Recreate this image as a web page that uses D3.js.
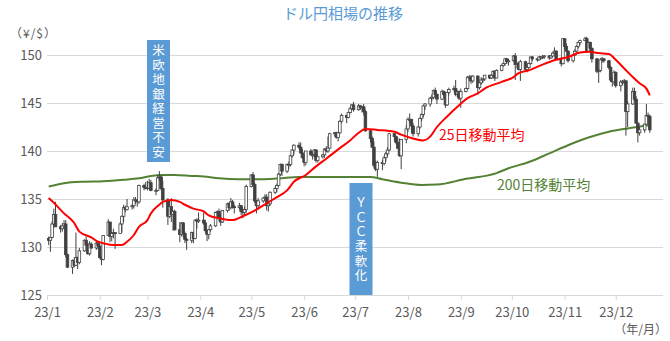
<!DOCTYPE html>
<html>
<head>
<meta charset="utf-8">
<script src="https://cdn.jsdelivr.net/npm/d3@7"></script>
<style>
  body { margin: 0; background: #fff; }
  text { font-family: "Noto Sans CJK JP", "Noto Sans", sans-serif; }
</style>
</head>
<body>
<div id="chart-area"></div>
<script>
// daily candles: [date, open, high, low, close]
const ohlc = [
  ["01-02",130.9,131.1,130.2,130.7],["01-03",130.7,131.0,129.5,131.0],["01-04",131.0,132.7,130.9,132.4],
  ["01-05",132.4,134.0,132.0,133.4],["01-06",133.4,134.7,132.8,132.1],["01-09",132.1,132.3,131.5,131.9],
  ["01-10",131.9,132.5,131.6,132.2],["01-11",132.2,132.8,132.0,132.4],["01-12",132.4,132.8,128.9,129.2],
  ["01-13",129.2,129.3,127.8,127.9],["01-16",127.9,128.7,127.2,128.6],["01-17",128.6,128.9,127.9,128.1],
  ["01-18",128.1,131.5,128.0,128.9],["01-19",128.9,129.0,127.7,128.4],["01-20",128.4,129.9,128.2,129.6],
  ["01-23",129.6,130.8,129.5,130.7],["01-24",130.7,131.1,130.1,130.2],["01-25",130.2,130.4,129.2,129.3],
  ["01-26",129.3,130.6,129.1,130.3],["01-27",130.3,130.5,129.8,129.9],["01-30",129.9,130.6,129.7,130.4],
  ["01-31",130.4,130.6,129.8,130.1],
  ["02-01",130.1,130.3,128.8,128.9],["02-02",128.9,129.0,128.1,128.7],["02-03",128.7,131.2,128.6,131.2],
  ["02-06",131.2,132.9,131.2,132.6],["02-07",132.6,132.6,130.5,131.1],["02-08",131.1,131.6,130.6,131.4],
  ["02-09",131.4,131.9,130.9,131.5],["02-10",131.5,131.5,129.8,131.4],["02-13",131.4,132.6,131.4,132.4],
  ["02-14",132.4,133.3,131.5,133.2],["02-15",133.2,134.4,132.6,134.1],["02-16",134.1,134.3,133.6,133.9],
  ["02-17",133.9,135.0,133.8,134.2],["02-20",134.2,134.5,133.9,134.3],["02-21",134.3,135.2,134.0,134.9],
  ["02-22",134.9,135.2,134.5,134.9],["02-23",134.9,135.0,134.2,134.7],["02-24",134.7,136.5,134.5,136.4],
  ["02-27",136.4,136.6,135.9,136.2],["02-28",136.2,136.8,136.0,136.2],
  ["03-01",136.2,136.9,135.9,136.1],["03-02",136.1,137.1,136.0,136.7],["03-03",136.7,137.0,135.8,135.9],
  ["03-06",135.9,136.1,135.4,135.9],["03-07",135.9,137.5,135.8,137.2],["03-08",137.2,137.9,136.9,137.3],
  ["03-09",137.3,137.5,135.9,136.1],["03-10",136.1,136.9,134.1,134.9],["03-13",134.9,135.1,132.3,133.2],
  ["03-14",133.2,134.8,133.0,134.2],["03-15",134.2,135.1,132.6,133.4],["03-16",133.4,133.8,131.7,133.7],
  ["03-17",133.7,133.9,131.7,131.8],["03-20",131.8,132.6,130.5,131.3],["03-21",131.3,132.6,131.1,132.5],
  ["03-22",132.5,132.6,131.0,131.4],["03-23",131.4,131.6,130.4,130.8],["03-24",130.8,131.0,129.7,130.7],
  ["03-27",130.7,131.6,130.4,131.5],["03-28",131.5,131.6,130.4,130.9],["03-29",130.9,132.9,130.8,132.8],
  ["03-30",132.8,133.0,131.9,132.7],["03-31",132.7,133.6,132.5,132.8],
  ["04-03",132.8,133.6,132.3,132.5],["04-04",132.5,132.8,131.5,131.7],["04-05",131.7,131.8,130.6,131.3],
  ["04-06",131.3,131.9,130.8,131.8],["04-07",131.8,132.4,131.6,132.2],["04-10",132.2,133.6,132.1,133.6],
  ["04-11",133.6,133.8,133.0,133.7],["04-12",133.7,134.0,132.7,133.1],["04-13",133.1,133.4,132.2,132.6],
  ["04-14",132.6,133.8,132.5,133.8],["04-17",133.8,134.6,133.6,134.5],["04-18",134.5,134.7,133.8,134.1],
  ["04-19",134.1,135.1,133.9,134.7],["04-20",134.7,134.9,134.0,134.2],["04-21",134.2,134.4,133.5,134.1],
  ["04-24",134.1,134.6,133.9,134.3],["04-25",134.3,134.4,133.3,133.7],["04-26",133.7,134.0,133.0,133.6],
  ["04-27",133.6,134.2,133.3,133.9],["04-28",133.9,136.5,133.6,136.3],
  ["05-01",136.3,137.6,136.2,137.5],["05-02",137.5,137.8,136.3,136.5],["05-03",136.5,136.7,134.6,134.8],
  ["05-04",134.8,134.9,133.5,134.3],["05-05",134.3,135.1,133.9,134.8],["05-08",134.8,135.2,134.6,135.1],
  ["05-09",135.1,135.5,134.8,135.2],["05-10",135.2,135.5,133.8,134.3],["05-11",134.3,134.8,133.7,134.5],
  ["05-12",134.5,135.8,134.3,135.7],["05-15",135.7,136.3,135.5,136.1],["05-16",136.1,136.6,135.7,136.4],
  ["05-17",136.4,137.7,136.3,137.6],["05-18",137.6,138.7,137.4,138.6],["05-19",138.6,138.7,137.4,137.9],
  ["05-22",137.9,138.7,137.7,138.6],["05-23",138.6,138.9,138.1,138.6],["05-24",138.6,139.6,138.4,139.5],
  ["05-25",139.5,140.2,139.3,140.1],["05-26",140.1,140.7,139.6,140.6],["05-29",140.6,140.9,140.2,140.4],
  ["05-30",140.4,140.9,139.7,139.8],["05-31",139.8,140.2,139.2,139.3],
  ["06-01",139.3,139.6,138.4,138.8],["06-02",138.8,140.0,138.5,140.0],["06-05",140.0,140.2,139.5,139.6],
  ["06-06",139.6,139.8,139.1,139.6],["06-07",139.6,140.2,139.3,140.1],["06-08",140.1,140.2,138.8,139.0],
  ["06-09",139.0,139.5,138.8,139.4],["06-12",139.4,139.7,139.2,139.6],["06-13",139.6,140.3,139.3,140.2],
  ["06-14",140.2,140.5,139.9,140.0],["06-15",140.0,141.5,139.8,140.3],["06-16",140.3,141.9,140.3,141.8],
  ["06-19",141.8,142.0,141.5,141.9],["06-20",141.9,142.0,141.3,141.4],["06-21",141.4,142.0,141.0,141.9],
  ["06-22",141.9,143.2,141.8,143.1],["06-23",143.1,143.9,142.9,143.7],["06-26",143.7,143.8,142.9,143.5],
  ["06-27",143.5,144.1,143.4,144.0],["06-28",144.0,144.6,143.9,144.4],["06-29",144.4,144.9,144.3,144.8],
  ["06-30",144.8,145.1,144.1,144.3],
  ["07-03",144.3,144.9,144.2,144.7],["07-04",144.7,144.8,144.3,144.5],["07-05",144.5,144.7,144.0,144.6],
  ["07-06",144.6,144.9,143.7,144.1],["07-07",144.1,144.3,142.0,142.1],["07-10",142.1,142.2,140.9,141.3],
  ["07-11",141.3,141.5,140.3,140.4],["07-12",140.4,141.0,138.2,138.5],["07-13",138.5,139.0,137.9,138.1],
  ["07-14",138.1,139.0,137.3,138.8],["07-17",138.8,139.1,138.0,138.7],["07-18",138.7,139.5,138.5,139.3],
  ["07-19",139.3,139.9,138.9,139.7],["07-20",139.7,140.4,139.4,140.1],["07-21",140.1,141.9,140.0,141.8],
  ["07-24",141.8,141.9,141.0,141.5],["07-25",141.5,141.6,140.7,140.9],["07-26",140.9,141.4,140.2,140.3],
  ["07-27",140.3,141.3,139.4,139.5],["07-28",139.5,141.2,138.1,141.2],["07-31",141.2,142.7,140.8,142.3],
  ["08-01",142.3,143.5,142.0,143.3],["08-02",143.3,143.9,142.9,143.3],["08-03",143.3,143.3,141.9,142.6],
  ["08-04",142.6,142.9,141.5,141.8],["08-07",141.8,142.6,141.5,142.5],["08-08",142.5,143.5,142.3,143.4],
  ["08-09",143.4,143.9,143.1,143.8],["08-10",143.8,144.8,143.5,144.7],["08-11",144.7,145.0,144.3,144.9],
  ["08-14",144.9,145.6,144.6,145.5],["08-15",145.5,145.9,145.2,145.6],["08-16",145.6,146.4,145.4,146.3],
  ["08-17",146.3,146.6,145.5,145.9],["08-18",145.9,146.0,144.9,145.4],["08-21",145.4,146.4,145.3,146.2],
  ["08-22",146.2,146.3,145.7,145.9],["08-23",145.9,146.1,144.5,144.8],["08-24",144.8,146.1,144.7,146.1],
  ["08-25",146.1,146.6,145.8,146.4],["08-28",146.4,146.8,146.2,146.5],["08-29",146.5,147.4,145.7,145.9],
  ["08-30",145.9,146.3,145.6,146.2],["08-31",146.2,146.3,145.3,145.5],
  ["09-01",145.5,146.5,144.5,146.2],["09-04",146.2,146.6,146.1,146.5],["09-05",146.5,147.8,146.4,147.7],
  ["09-06",147.7,147.9,147.3,147.7],["09-07",147.7,147.9,147.0,147.3],["09-08",147.3,147.9,147.1,147.8],
  ["09-11",147.8,147.9,145.9,146.6],["09-12",146.6,147.2,146.4,147.1],["09-13",147.1,147.7,146.9,147.4],
  ["09-14",147.4,147.6,147.1,147.5],["09-15",147.5,147.9,147.3,147.9],["09-18",147.9,147.9,147.5,147.6],
  ["09-19",147.6,148.0,147.5,147.9],["09-20",147.9,148.4,147.7,148.3],["09-21",148.3,148.4,147.3,147.6],
  ["09-22",147.6,148.5,147.6,148.4],["09-25",148.4,149.0,148.3,148.9],["09-26",148.9,149.2,148.8,149.1],
  ["09-27",149.1,149.7,148.9,149.6],["09-28",149.6,149.7,149.1,149.3],["09-29",149.3,149.6,148.9,149.4],
  ["10-02",149.4,150.0,149.3,149.9],["10-03",149.9,150.2,147.4,149.0],["10-04",149.0,149.3,148.6,149.1],
  ["10-05",149.1,149.3,148.4,148.5],["10-06",148.5,149.5,147.3,149.3],["10-09",149.3,149.4,148.4,148.5],
  ["10-10",148.5,148.9,148.2,148.7],["10-11",148.7,149.2,148.6,149.1],["10-12",149.1,149.8,149.0,149.8],
  ["10-13",149.8,149.9,149.4,149.6],["10-16",149.6,149.7,149.3,149.5],["10-17",149.5,149.9,149.4,149.8],
  ["10-18",149.8,149.9,149.5,149.8],["10-19",149.8,150.0,149.6,149.8],["10-20",149.8,150.0,149.6,149.9],
  ["10-23",149.9,150.0,149.5,149.7],["10-24",149.7,150.0,149.6,149.9],["10-25",149.9,150.3,149.8,150.2],
  ["10-26",150.2,150.8,150.1,150.4],["10-27",150.4,150.5,149.5,149.6],["10-30",149.6,149.8,148.8,149.1],
  ["10-31",149.1,151.7,149.0,151.7],
  ["11-01",151.7,151.7,150.6,150.9],["11-02",150.9,151.2,150.3,150.4],["11-03",150.4,150.5,149.2,149.4],
  ["11-06",149.4,150.1,149.2,150.0],["11-07",150.0,150.6,149.9,150.4],["11-08",150.4,151.0,150.3,150.9],
  ["11-09",150.9,151.4,150.7,151.3],["11-10",151.3,151.6,151.0,151.5],["11-13",151.5,151.9,151.5,151.7],
  ["11-14",151.7,151.9,150.2,150.4],["11-15",150.4,151.4,150.3,151.3],["11-16",151.3,151.4,150.5,150.7],
  ["11-17",150.7,150.8,149.2,149.6],["11-20",149.6,149.7,148.1,148.3],["11-21",148.3,148.6,147.1,148.4],
  ["11-22",148.4,149.7,148.2,149.5],["11-23",149.5,149.8,149.2,149.6],["11-24",149.6,149.7,149.2,149.4],
  ["11-27",149.4,149.5,148.5,148.7],["11-28",148.7,148.9,147.2,147.4],["11-29",147.4,147.7,146.7,147.2],
  ["11-30",147.2,148.4,146.9,148.2],
  ["12-01",148.2,148.3,146.6,146.8],["12-04",146.8,147.4,146.2,147.2],["12-05",147.2,147.4,146.9,147.2],
  ["12-06",147.2,147.5,146.9,147.3],["12-07",147.3,147.4,141.6,144.1],["12-08",144.1,145.2,142.5,144.9],
  ["12-11",144.9,146.6,144.8,146.2],["12-12",146.2,146.6,145.2,145.4],["12-13",145.4,145.7,142.9,142.9],
  ["12-14",142.9,143.0,140.9,141.9],["12-15",141.9,142.5,141.6,142.2],["12-18",142.2,142.8,141.9,142.8],
  ["12-19",142.8,144.9,142.7,143.7],["12-20",143.7,144.0,142.9,143.6],["12-21",143.6,143.8,141.9,142.2]
];

// 25-day moving average
const ma25 = [
  ["01-02",135.1],["01-05",134.6],["01-11",133.5],["01-17",132.5],["01-20",131.6],["01-27",131.0],
  ["01-31",130.55],["02-03",130.4],["02-09",130.2],["02-14",130.2],["02-17",130.55],["02-21",131.25],
  ["02-24",132.1],["03-01",132.8],["03-03",133.5],["03-08",134.4],["03-10",134.7],["03-15",134.9],
  ["03-20",134.7],["03-23",134.4],["03-28",134.0],["04-03",133.7],["04-06",133.3],["04-12",133.0],
  ["04-20",132.8],["04-26",133.2],["05-04",133.9],["05-10",134.55],["05-16",135.2],["05-22",135.9],
  ["05-26",136.8],["06-02",137.5],["06-08",138.4],["06-14",139.2],["06-22",140.3],["06-28",141.1],
  ["07-03",141.9],["07-07",142.3],["07-14",142.2],["07-24",142.0],["07-28",141.7],["08-04",141.3],
  ["08-10",141.1],["08-14",141.5],["08-18",142.5],["08-24",143.6],["08-30",144.6],["09-05",145.5],
  ["09-11",146.0],["09-15",146.5],["09-25",147.2],["10-02",147.7],["10-05",148.1],["10-11",148.4],
  ["10-19",149.0],["10-27",149.5],["11-03",149.8],["11-10",150.25],["11-15",150.35],["11-21",150.2],
  ["11-27",150.1],["12-01",149.5],["12-06",148.6],["12-11",147.7],["12-15",147.05],["12-19",146.5],
  ["12-21",145.8]
];

// 200-day moving average
const ma200 = [
  ["01-02",136.3],["01-11",136.65],["01-23",136.8],["02-03",136.85],["02-15",137.0],["02-24",137.15],
  ["03-03",137.4],["03-10",137.5],["03-17",137.5],["03-27",137.4],["04-03",137.35],["04-12",137.15],
  ["04-24",137.05],["05-05",137.05],["05-17",137.15],["05-29",137.3],["06-22",137.3],["07-10",137.3],
  ["07-17",137.05],["07-28",136.7],["08-09",136.45],["08-18",136.5],["09-04",137.1],["09-22",137.7],
  ["09-29",138.2],["10-11",138.85],["10-23",139.75],["11-03",140.6],["11-15",141.4],["11-27",142.0],
  ["12-08",142.35],["12-21",142.7]
];

const yTicks = [125, 130, 135, 140, 145, 150];
const monthTicks = d3.range(0, 12).map(m => new Date(2023, m, 1));

const W = 670, H = 341;
const LEFT = 47, RIGHT = 663, TOP = 55, BOTTOM = 295;

const parse = s => new Date(2023, +s.slice(0, 2) - 1, +s.slice(3, 5));

const svg = d3.select("#chart-area").append("svg")
  .attr("width", W)
  .attr("height", H);

const x = d3.scaleTime()
  .domain([new Date(2023, 0, 1), new Date(2023, 11, 27)])
  .range([LEFT, 660]);

const y = d3.scaleLinear()
  .domain([125, 150])
  .range([BOTTOM, TOP]);

// gridlines + y labels
const yAxisGroup = svg.append("g")
  .attr("transform", `translate(${LEFT},0)`)
  .call(d3.axisLeft(y).tickValues(yTicks).tickSize(-(RIGHT - LEFT)).tickPadding(5));
yAxisGroup.select(".domain").remove();
yAxisGroup.selectAll("line").attr("stroke", "#d9d9d9");
yAxisGroup.selectAll("text")
  .attr("fill", "#595959")
  .attr("font-size", "13px");

// x axis
const xAxisGroup = svg.append("g")
  .attr("transform", `translate(0,${BOTTOM})`)
  .call(d3.axisBottom(x).tickValues(monthTicks).tickSize(5).tickPadding(8)
    .tickFormat(d => "23/" + (d.getMonth() + 1)));
xAxisGroup.select(".domain").remove();
xAxisGroup.selectAll("line").attr("stroke", "#d9d9d9");
xAxisGroup.selectAll("text")
  .attr("fill", "#595959")
  .attr("font-size", "13px");

// title and unit labels
svg.append("text")
  .attr("x", 343).attr("y", 19)
  .attr("text-anchor", "middle")
  .attr("font-size", "15px")
  .attr("fill", "#5b9bd5")
  .text("ドル円相場の推移");

svg.append("text")
  .attr("x", 10).attr("y", 38)
  .attr("font-size", "12px")
  .attr("letter-spacing", "1px")
  .attr("fill", "#595959")
  .text("（¥/$）");

svg.append("text")
  .attr("x", 667).attr("y", 334)
  .attr("text-anchor", "end")
  .attr("font-size", "12px")
  .attr("fill", "#595959")
  .text("（年/月）");

// annotation boxes with vertical text
function note(cx, top, bottom, label) {
  const w = 23;
  svg.append("rect")
    .attr("x", cx - w / 2).attr("y", top)
    .attr("width", w).attr("height", bottom - top)
    .attr("fill", "#5b9bd5");
  svg.append("text")
    .attr("x", cx).attr("y", (top + bottom) / 2 + 1)
    .attr("text-anchor", "middle")
    .style("writing-mode", "vertical-rl")
    .style("text-orientation", "upright")
    .attr("letter-spacing", "2px")
    .attr("font-size", "12.5px")
    .attr("fill", "#fff")
    .text(label);
}

// 200 MA
const line = d3.line()
  .x(d => x(parse(d[0])))
  .y(d => y(d[1]))
  .curve(d3.curveMonotoneX);

svg.append("path")
  .datum(ma200)
  .attr("fill", "none")
  .attr("stroke", "#548235")
  .attr("stroke-width", 2)
  .attr("d", line);

// candles
const bodyW = 2.6;
const candles = svg.append("g");
ohlc.forEach(d => {
  const cx = x(parse(d[0]));
  const up = d[4] >= d[1];
  candles.append("line")
    .attr("x1", cx).attr("x2", cx)
    .attr("y1", y(d[2])).attr("y2", y(d[3]))
    .attr("stroke", "#404040")
    .attr("stroke-width", 1);
  const top = y(Math.max(d[1], d[4]));
  const h = Math.max(1, Math.abs(y(d[1]) - y(d[4])));
  candles.append("rect")
    .attr("x", cx - bodyW / 2).attr("y", top)
    .attr("width", bodyW).attr("height", h)
    .attr("fill", up ? "#ffffff" : "#404040")
    .attr("stroke", "#404040")
    .attr("stroke-width", 0.8);
});

// 25 MA
svg.append("path")
  .datum(ma25)
  .attr("fill", "none")
  .attr("stroke", "#ff0000")
  .attr("stroke-width", 2)
  .attr("d", line);

note(158.5, 40, 162, "米欧地銀経営不安");
note(361, 183, BOTTOM, "ＹＣＣ柔軟化");

// line labels
svg.append("text")
  .attr("x", 439).attr("y", 140)
  .attr("font-size", "14px")
  .attr("fill", "#ff0000")
  .text("25日移動平均");

svg.append("text")
  .attr("x", 497).attr("y", 190)
  .attr("font-size", "14px")
  .attr("fill", "#548235")
  .text("200日移動平均");
</script>
</body>
</html>
